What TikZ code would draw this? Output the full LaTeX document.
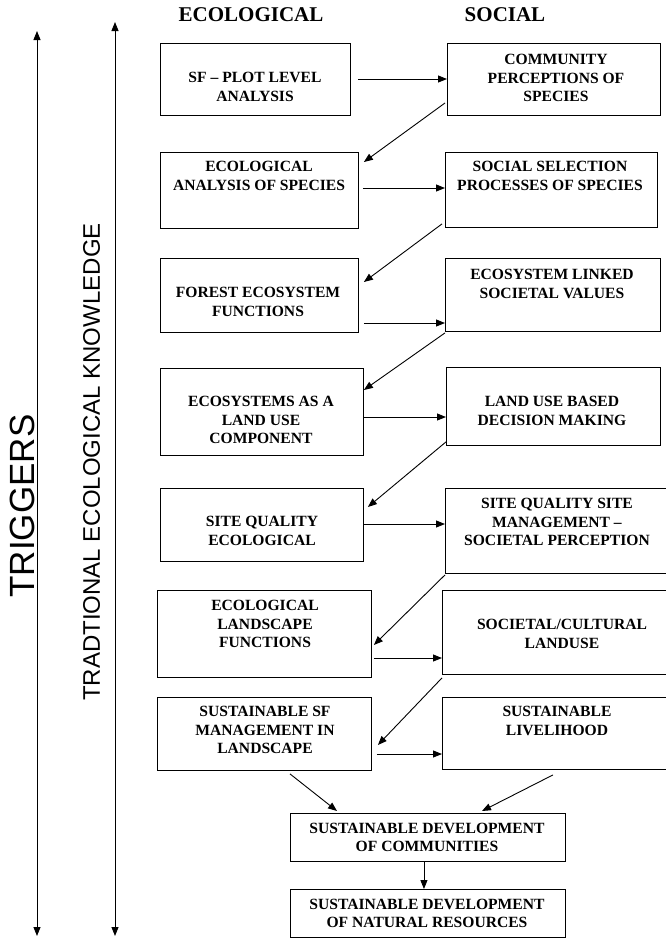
\documentclass[tikz,border=0pt]{standalone}
\usepackage{fontspec}
\setmainfont{Liberation Serif}
\newfontfamily\sansf{Liberation Sans}
\usetikzlibrary{arrows.meta,calc}
\begin{document}
\begin{tikzpicture}[x=1pt,y=-1pt,
  box/.style={draw, line width=0.9pt, inner sep=0pt, anchor=north west},
  txt/.style={font=\fontsize{15.6}{18.5}\selectfont\bfseries, align=center, inner sep=0pt},
  hdr/.style={font=\fontsize{21}{24}\selectfont\bfseries, inner sep=0pt},
  arr/.style={line width=0.9pt, -{Triangle[length=9pt,width=7pt]}},
  darr/.style={line width=0.9pt, {Triangle[length=9pt,width=7pt]}-{Triangle[length=9pt,width=7pt]}}
]
\useasboundingbox (0,0) rectangle (666,938);

% headers
\node[hdr] (hecol) at (251,14.5) {ECOLOGICAL};
\node[hdr] (hsoc) at (505,14.5) {SOCIAL};

% side arrows and labels
\coordinate (trt) at (37,31);
\coordinate (trb) at (37,936);
\coordinate (tkt) at (115,22);
\coordinate (tkb) at (115,936);
\draw[darr] (trt) -- (trb);
\draw[darr] (tkt) -- (tkb);
\node[rotate=90, inner sep=0pt, font=\sansf\fontsize{35}{35}\selectfont] (trig) at (22.5,506) {TRIGGERS};
\node[rotate=90, inner sep=0pt, font=\sansf\fontsize{24}{24}\selectfont] (tek) at (91.5,462) {TRADTIONAL ECOLOGICAL KNOWLEDGE};

% boxes
\node[box, minimum width=190, minimum height=72] (sf) at (160,43) {};
\node[box, minimum width=213, minimum height=72] (comm) at (447,43) {};
\node[box, minimum width=198, minimum height=76] (eco) at (160,152) {};
\node[box, minimum width=212, minimum height=75] (socsel) at (445,152) {};
\node[box, minimum width=198, minimum height=74] (forest) at (160,258) {};
\node[box, minimum width=215, minimum height=73] (ecolink) at (445,258) {};
\node[box, minimum width=203, minimum height=87] (ecoland) at (160,368) {};
\node[box, minimum width=214, minimum height=78] (landuse) at (446,367) {};
\node[box, minimum width=203, minimum height=73] (siteq) at (160,488) {};
\node[box, minimum width=223, minimum height=85] (siteqs) at (445,488) {};
\node[box, minimum width=214, minimum height=87] (ecoscape) at (157,590) {};
\node[box, minimum width=226, minimum height=84] (soccult) at (442,590) {};
\node[box, minimum width=214, minimum height=73] (sustsf) at (157,697) {};
\node[box, minimum width=226, minimum height=72] (sustlive) at (442,697) {};
\node[box, minimum width=275, minimum height=48] (comm2) at (290,813) {};
\node[box, minimum width=275, minimum height=48] (nat) at (290,889) {};

% texts
\node[txt] (tsf) at (255,87) {SF \textendash{} PLOT LEVEL\\ANALYSIS};
\node[txt] (tcomm) at (556,78) {COMMUNITY\\PERCEPTIONS OF\\SPECIES};
\node[txt] (teco) at (259,176) {ECOLOGICAL\\ANALYSIS OF SPECIES};
\node[txt] (tsocsel) at (550,176) {SOCIAL SELECTION\\PROCESSES OF SPECIES};
\node[txt] (tforest) at (258,302) {FOREST ECOSYSTEM\\FUNCTIONS};
\node[txt] (tecolink) at (552,284) {ECOSYSTEM LINKED\\SOCIETAL VALUES};
\node[txt] (tecoland) at (261,420) {ECOSYSTEMS AS A\\LAND USE\\COMPONENT};
\node[txt] (tlanduse) at (552,411) {LAND USE BASED\\DECISION MAKING};
\node[txt] (tsiteq) at (262,531) {SITE QUALITY\\ECOLOGICAL};
\node[txt] (tsiteqs) at (557,522) {SITE QUALITY SITE\\MANAGEMENT \textendash\\SOCIETAL PERCEPTION};
\node[txt] (tecoscape) at (265,624) {ECOLOGICAL\\LANDSCAPE\\FUNCTIONS};
\node[txt] (tsoccult) at (562,634) {SOCIETAL/CULTURAL\\LANDUSE};
\node[txt] (tsustsf) at (265,730) {SUSTAINABLE SF\\MANAGEMENT IN\\LANDSCAPE};
\node[txt] (tsustlive) at (557,721) {SUSTAINABLE\\LIVELIHOOD};
\node[txt] (tcomm2) at (427,837.5) {SUSTAINABLE DEVELOPMENT\\OF COMMUNITIES};
\node[txt] (tnat) at (427,913.5) {SUSTAINABLE DEVELOPMENT\\OF NATURAL RESOURCES};

% horizontal arrows
\draw[arr] ($(sf.north east)+(7,36)$) -- ($(comm.north west)+(0,36)$);
\draw[arr] ($(eco.north east)+(4,36)$) -- ($(socsel.north west)+(0,36)$);
\draw[arr] ($(forest.north east)+(5,65)$) -- ($(ecolink.north west)+(0,65)$);
\draw[arr] ($(ecoland.north east)+(0,49)$) -- ($(landuse.north west)+(0,50)$);
\draw[arr] ($(siteq.north east)+(0,36)$) -- ($(siteqs.north west)+(0,36)$);
\draw[arr] ($(ecoscape.north east)+(2,68)$) -- ($(soccult.north west)+(0,68)$);
\draw[arr] ($(sustsf.north east)+(5,57)$) -- ($(sustlive.north west)+(0,57)$);

% diagonal arrows
\draw[arr] ($(comm.north west)+(-2,60)$) -- ($(eco.north east)+(5,10)$);
\draw[arr] ($(socsel.south west)+(-3,-4)$) -- ($(forest.north east)+(5,24)$);
\draw[arr] ($(ecolink.south west)+(0,1)$) -- ($(ecoland.north east)+(0,22)$);
\draw[arr] ($(landuse.south west)+(0,-4)$) -- ($(siteq.north east)+(4,19)$);
\draw[arr] ($(siteqs.south west)+(0,1)$) -- ($(ecoscape.north east)+(2,55)$);
\draw[arr] ($(soccult.south west)+(0,3)$) -- ($(sustsf.north east)+(6,48)$);
\draw[arr] ($(sustsf.south west)+(133,3)$) -- ($(comm2.north west)+(47,-2)$);
\draw[arr] ($(sustlive.south west)+(111,5)$) -- ($(comm2.north west)+(192,-2)$);
\draw[arr] ($(comm2.south)+(-4,0)$) -- ($(nat.north)+(-4,0)$);
\end{tikzpicture}
\end{document}
